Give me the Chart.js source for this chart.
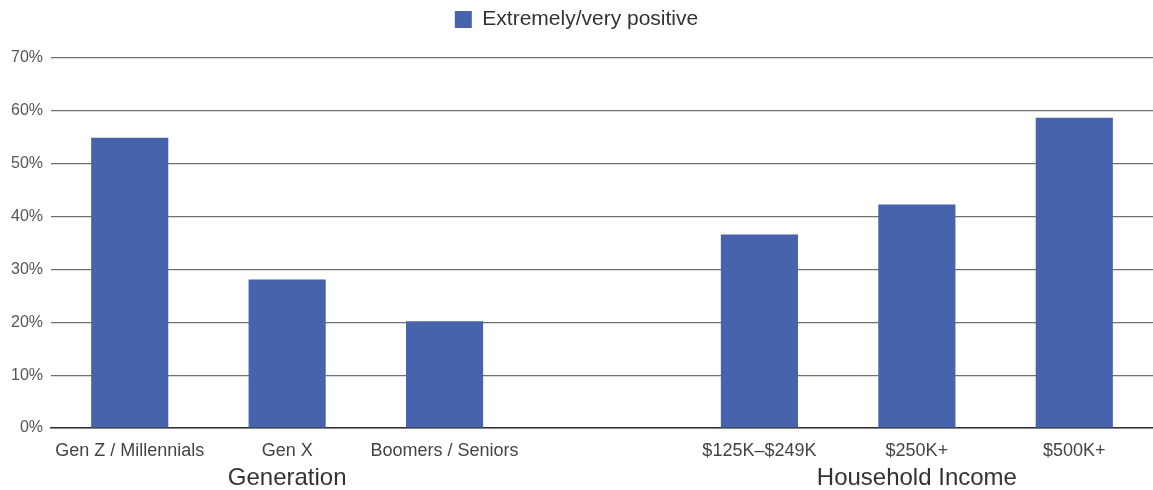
<!DOCTYPE html>
<html lang="en">
<head>
    <meta charset="UTF-8">
    <title>Extremely/very positive by segment</title>
    <script src="https://cdn.jsdelivr.net/npm/chart.js"></script>
    <style>
        html, body { margin: 0; padding: 0; background: #fff; }
        #wrap { width: 1153px; height: 490px; }
    </style>
</head>
<body>
    <div id="wrap"><canvas id="segChart"></canvas></div>

    <script>
        // categories (blank slot separates the two groups)
        const categories = ['Gen Z / Millennials', 'Gen X', 'Boomers / Seniors', '', '$125K\u2013$249K', '$250K+', '$500K+'];
        const groupLabels = ['', 'Generation', '', '', '', 'Household Income', ''];
        const positiveShare = [54.9, 28.1, 20.2, null, 36.6, 42.3, 58.7];
        const yTicks = [0, 10, 20, 30, 40, 50, 60, 70];

        const FONT = "'Liberation Sans', Arial, sans-serif";
        const BLUE = '#4663ac';

        // give the legend a fixed block height so the plot starts lower
        const legendHeight = {
            id: 'legendHeight',
            beforeInit(chart) {
                const lg = chart.legend;
                if (!lg) return;
                const fit = lg.fit.bind(lg);
                lg.fit = function () { fit(); this.height = 58; };
            }
        };

        new Chart(document.getElementById('segChart'), {
            type: 'bar',
            data: {
                labels: categories,
                datasets: [{
                    label: 'Extremely/very positive',
                    data: positiveShare,
                    backgroundColor: BLUE,
                    borderWidth: 0,
                    categoryPercentage: 1,
                    barPercentage: 0.49
                }]
            },
            plugins: [legendHeight],
            options: {
                responsive: true,
                maintainAspectRatio: false,
                animation: false,
                layout: { padding: 0 },
                plugins: {
                    tooltip: { enabled: false },
                    legend: {
                        position: 'top',
                        align: 'center',
                        labels: {
                            boxWidth: 17,
                            boxHeight: 17,
                            padding: 9,
                            color: '#333',
                            font: { family: FONT, size: 21 }
                        }
                    }
                },
                scales: {
                    x: {
                        position: 'bottom',
                        grid: { display: false, drawTicks: false },
                        border: { display: true, color: '#333', width: 1.5 },
                        ticks: {
                            autoSkip: false,
                            maxRotation: 0,
                            padding: 12,
                            color: '#444',
                            font: { family: FONT, size: 18 }
                        },
                        afterFit: s => { s.height = 32; }
                    },
                    x2: {
                        type: 'category',
                        position: 'bottom',
                        labels: groupLabels,
                        grid: { display: false, drawTicks: false },
                        border: { display: false },
                        ticks: {
                            autoSkip: false,
                            maxRotation: 0,
                            padding: 4,
                            color: '#333',
                            font: { family: FONT, size: 24 }
                        },
                        afterFit: s => { s.height = 30; }
                    },
                    y: {
                        min: 0,
                        max: 70,
                        afterBuildTicks: s => { s.ticks = yTicks.map(v => ({ value: v })); },
                        grid: { color: '#707070', lineWidth: 1.2, drawTicks: false },
                        border: { display: false },
                        ticks: {
                            padding: 8,
                            color: '#555',
                            font: { family: FONT, size: 16 },
                            callback: v => v + '%'
                        },
                        afterFit: s => { s.width = 51; }
                    }
                }
            }
        });
    </script>
</body>
</html>
